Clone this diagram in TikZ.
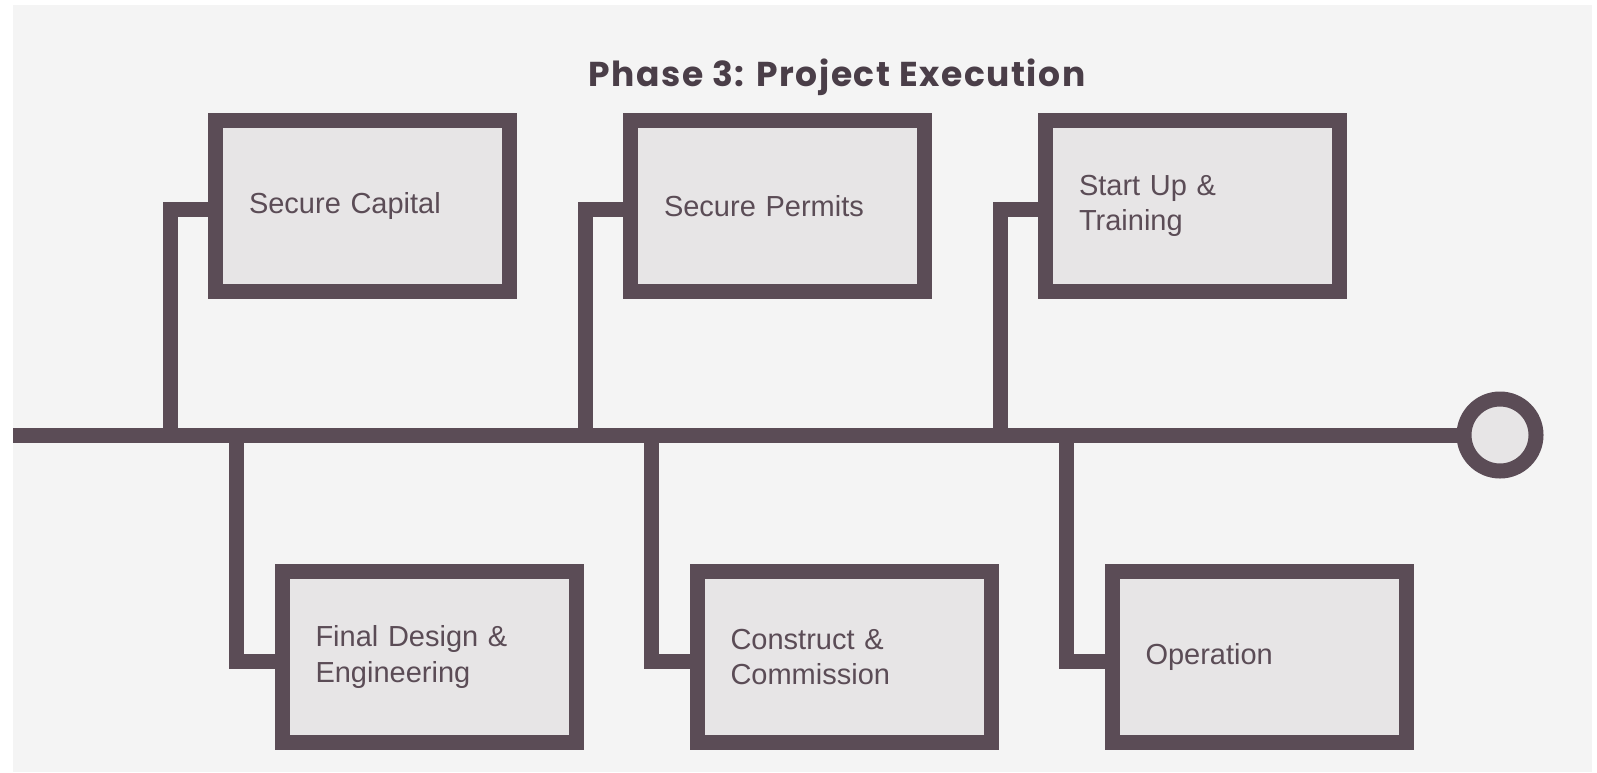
\documentclass[tikz,border=0pt]{standalone}
\usepackage{fontspec}
\setmainfont{Liberation Sans}
\newfontfamily\titlefont[LetterSpace=4.5]{Poppins}
\definecolor{edgec}{HTML}{5B4C56}
\definecolor{boxfill}{HTML}{E7E5E6}
\definecolor{panelc}{HTML}{F4F4F4}
\definecolor{titlec}{HTML}{4A3E48}
\tikzset{
  stepbox/.style={draw=edgec, fill=boxfill, line width=15pt, minimum width=294pt,
    minimum height=171pt, text width=227pt, align=left, inner xsep=33.5pt, inner ysep=0pt,
    font=\fontsize{29}{35.7}\selectfont, text=edgec},
  wire/.style={draw=edgec, line width=15pt, line join=miter},
  endring/.style={circle, draw=edgec, fill=boxfill, line width=15pt, minimum size=72pt, inner sep=0pt}
}
\begin{document}
\begin{tikzpicture}[x=1pt,y=-1pt]
\useasboundingbox (0,0) rectangle (1597,772);
\fill[white] (0,0) rectangle (1597,772);
\fill[panelc] (13,5) rectangle (1592,772);

\node[font=\titlefont\bfseries\fontsize{34.5}{40}\selectfont, text=titlec, anchor=base] (title) at (837,86) {Phase 3: Project Execution};

% junction points on the main line
\coordinate (start) at (13,435);
\coordinate (j1) at (170,435);
\coordinate (j2) at (236,435);
\coordinate (j3) at (585,435);
\coordinate (j4) at (651,435);
\coordinate (j5) at (1000,435);
\coordinate (j6) at (1066,435);

\node[stepbox] (cap) at (362.5,206) {Secure Capital};
\node[stepbox] (per) at (777.5,206) {Secure Permits};
\node[stepbox] (stu) at (1192.5,206) {Start Up \&\\Training};
\node[stepbox] (fde) at (429,657) {Final Design \&\\Engineering};
\node[stepbox] (con) at (844,657) {Construct \&\\Commission};
\node[stepbox] (ope) at (1259,657) {Operation};
\node[endring] (fin) at (1500,435) {};

\draw[wire] (j1) |- ([yshift=-3pt]cap.west);
\draw[wire] (j3) |- ([yshift=-3pt]per.west);
\draw[wire] (j5) |- ([yshift=-3pt]stu.west);
\draw[wire] (j2) |- ([yshift=-4pt]fde.west);
\draw[wire] (j4) |- ([yshift=-4pt]con.west);
\draw[wire] (j6) |- ([yshift=-4pt]ope.west);
\draw[wire] (start) -- (fin.west);
\end{tikzpicture}
\end{document}
